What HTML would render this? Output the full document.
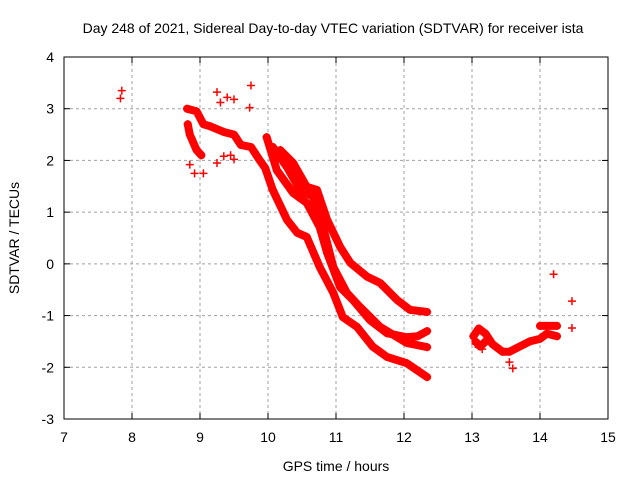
<!DOCTYPE html>
<html><head><meta charset="utf-8"><style>
body{margin:0;background:#fff}
svg text{font-family:"Liberation Sans",sans-serif;font-size:14px;fill:#000}
</style></head><body>
<svg id="chart" width="640" height="480" xmlns="http://www.w3.org/2000/svg">
<rect width="640" height="480" fill="#fff"/>
<text x="333" y="33" text-anchor="middle">Day 248 of 2021, Sidereal Day-to-day VTEC variation (SDTVAR) for receiver ista</text>
<text x="336" y="471" text-anchor="middle">GPS time / hours</text>
<text x="0" y="0" text-anchor="middle" transform="translate(19,238) rotate(-90)">SDTVAR / TECUs</text>
<g id="grid"></g>
<g id="marks"></g>
<rect x="64" y="57" width="544" height="362" fill="none" stroke="#000" stroke-width="1"/>
<g id="ticks"></g>
</svg>
<script>
const xTicks=[7,8,9,10,11,12,13,14,15];
const yTicks=[-3,-2,-1,0,1,2,3,4];
const trackA=[[8.81,3.0],[8.95,2.95],[9.05,2.7],[9.15,2.66],[9.35,2.55],[9.5,2.5],[9.6,2.3],[9.75,2.26],[9.88,2.0],[9.96,1.85],[10.07,1.43],[10.28,0.85],[10.43,0.6],[10.57,0.52],[10.76,-0.06],[10.96,-0.56],[11.1,-1.03],[11.31,-1.22],[11.54,-1.6],[11.75,-1.8],[12.04,-1.92],[12.34,-2.19]];
const trackB=[[9.98,2.45],[10.13,1.81],[10.37,1.37],[10.57,1.18],[10.76,0.71],[10.87,0.21],[11.06,-0.45],[11.25,-0.7],[11.5,-1.09],[11.75,-1.34],[12.04,-1.42],[12.2,-1.4],[12.34,-1.3]];
const trackC=[[10.07,2.26],[10.28,1.87],[10.47,1.43],[10.66,1.3],[10.81,0.71],[10.96,-0.06],[11.16,-0.56],[11.35,-0.83],[11.65,-1.22],[12.04,-1.53],[12.34,-1.61]];
const trackD=[[10.18,2.2],[10.37,1.95],[10.57,1.49],[10.72,1.43],[10.87,0.85],[11.06,0.33],[11.21,0.02],[11.46,-0.25],[11.65,-0.37],[11.9,-0.7],[12.09,-0.89],[12.34,-0.93]];
const trackE=[[13.02,-1.4],[13.1,-1.25],[13.2,-1.35],[13.3,-1.55],[13.45,-1.7],[13.55,-1.7],[13.7,-1.6],[13.85,-1.5],[14.0,-1.45],[14.1,-1.35],[14.25,-1.4]];
const trackF=[[8.82,2.7],[8.85,2.5],[8.95,2.2],[9.02,2.1]];
const trackG=[[14.0,-1.2],[14.1,-1.2],[14.25,-1.2]];
const trackH=[[13.05,-1.5],[13.12,-1.6],[13.2,-1.5]];
const scatterPts=[[7.85,3.35],[7.83,3.2],[9.25,3.32],[9.3,3.12],[9.4,3.22],[9.5,3.18],[9.75,3.45],[9.73,3.02],[8.85,1.92],[8.92,1.75],[9.05,1.75],[9.25,1.95],[9.35,2.08],[9.45,2.1],[9.5,2.02],[13.6,-2.02],[13.55,-1.9],[13.05,-1.55],[13.15,-1.65],[14.2,-0.2],[14.47,-0.72],[14.47,-1.24]];
const X=h=>64+(h-7)*68, Y=v=>57+(4-v)*362/7;
const NS="http://www.w3.org/2000/svg";
const grid=document.getElementById('grid'),ticks=document.getElementById('ticks'),marks=document.getElementById('marks');
function mk(t,a,p){const e=document.createElementNS(NS,t);for(const k in a)e.setAttribute(k,a[k]);p.appendChild(e);return e;}
xTicks.forEach(t=>{const x=X(t);
 if(t>7&&t<15){const l=mk('line',{x1:x,x2:x,y1:57,y2:419,stroke:'#a0a0a0','stroke-dasharray':'3,3'},grid);
 
 }
 mk('line',{x1:x,x2:x,y1:419,y2:413,stroke:'#000'},ticks);mk('line',{x1:x,x2:x,y1:57,y2:63,stroke:'#000'},ticks);
 const tx=mk('text',{x:x,y:442,'text-anchor':'middle'},ticks);tx.textContent=t;
 
 });
yTicks.forEach(t=>{const y=Y(t);
 if(t>-3&&t<4){const l=mk('line',{x1:64,x2:608,y1:y,y2:y,stroke:'#a0a0a0','stroke-dasharray':'3,3'},grid);
 
 }
 mk('line',{x1:64,x2:70,y1:y,y2:y,stroke:'#000'},ticks);mk('line',{x1:602,x2:608,y1:y,y2:y,stroke:'#000'},ticks);
 const tx=mk('text',{x:54,y:y+5,'text-anchor':'end'},ticks);tx.textContent=t;
 
 });
function plus(h,v){const x=X(h),y=Y(v);
 const p=mk('path',{d:`M${x-4} ${y}H${x+4}M${x} ${y-4}V${y+4}`,stroke:'#f00','stroke-width':1.5,fill:'none'},marks);
 
 }
[trackA,trackB,trackC,trackD,trackE,trackF,trackG,trackH].forEach((tr,i)=>{
 const pl=mk('polyline',{points:tr.map(p=>X(p[0])+','+Y(p[1])).join(' '),stroke:'#f00','stroke-width':8,fill:'none','stroke-linejoin':'round','stroke-linecap':'round'},marks);
 
 
 tr.forEach(p=>plus(p[0],p[1]));});
scatterPts.forEach(p=>plus(p[0],p[1]));
</script>
</body></html>
